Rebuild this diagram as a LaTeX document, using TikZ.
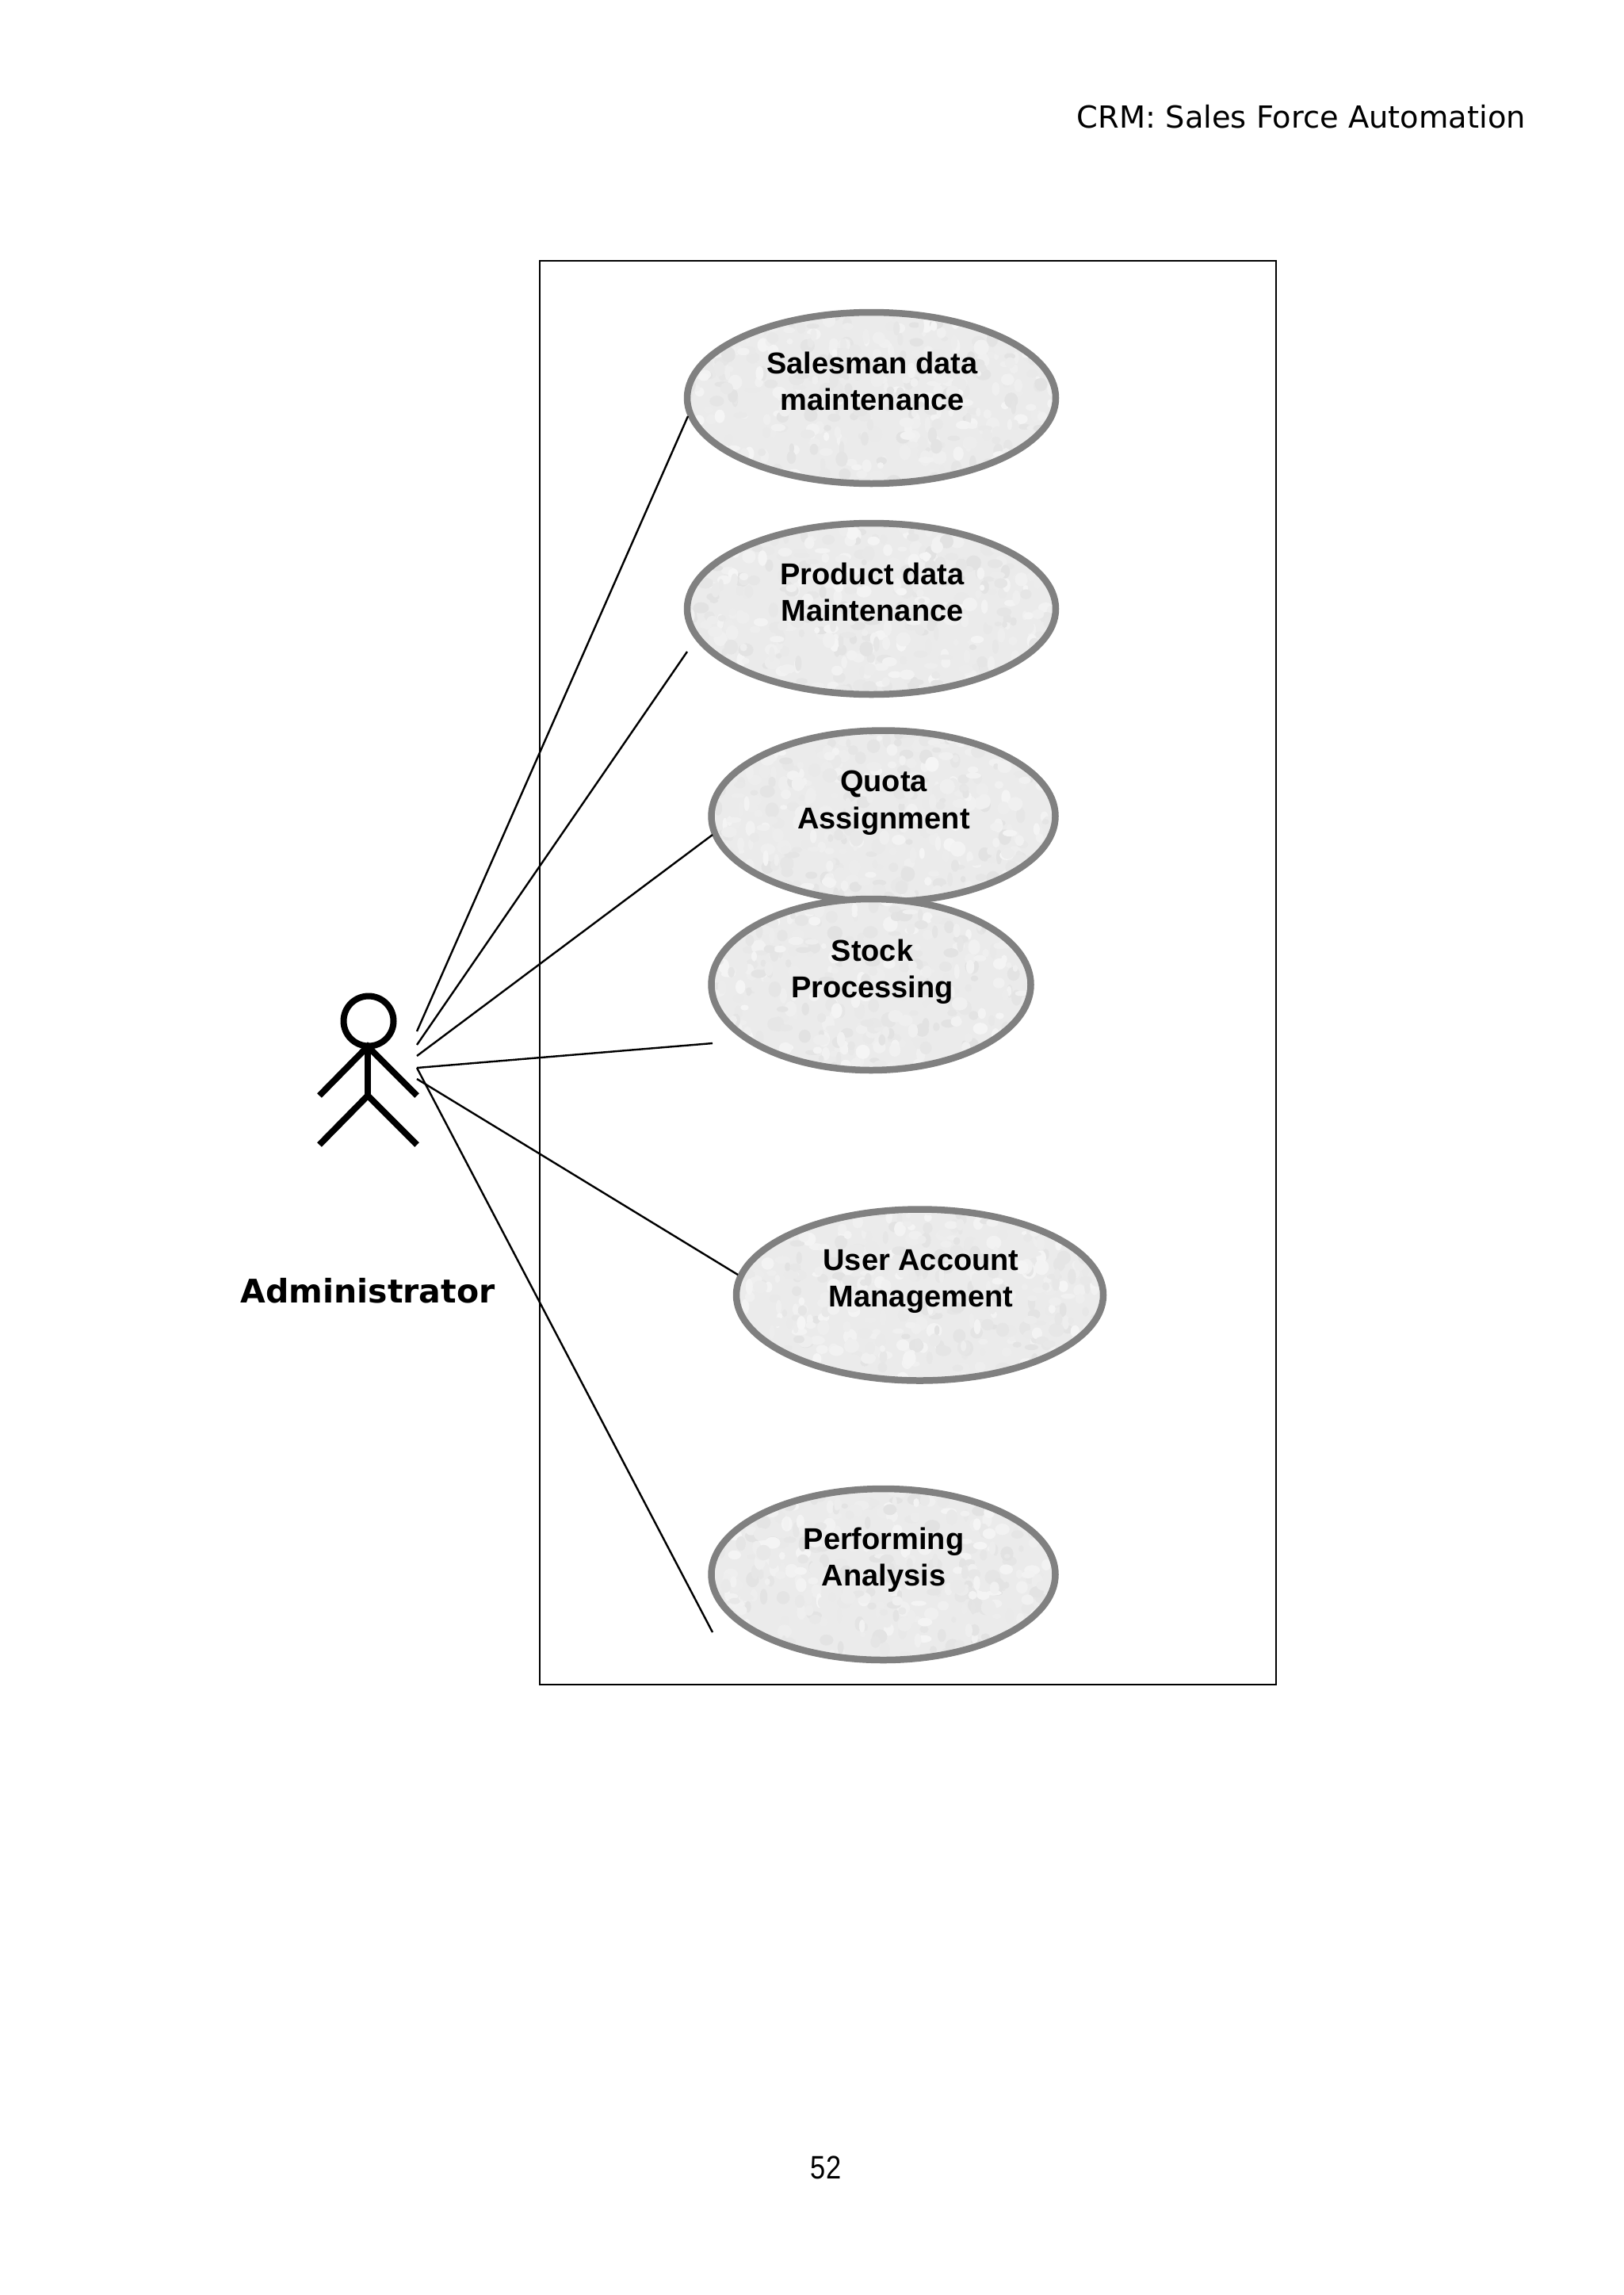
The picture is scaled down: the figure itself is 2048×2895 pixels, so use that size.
\documentclass[tikz,border=0pt]{standalone}
\usepackage{fontspec}
\setmainfont{Liberation Sans}
\newfontfamily\headfont{DejaVu Sans}
\pgfmathsetseed{52}
\newcommand{\mottle}{%
  \begin{scope}[shift={(path picture bounding box.center)}]
    \foreach \k in {1,...,520}{%
      \pgfmathsetmacro\gr{0.885+0.075*rnd}%
      \pgfmathsetmacro\ax{(rnd-0.5)*480}%
      \pgfmathsetmacro\ay{(rnd-0.5)*230}%
      \pgfmathsetmacro\ra{3+7*rnd}%
      \pgfmathsetmacro\rb{3+7*rnd}%
      \definecolor{blobtone}{gray}{\gr}%
      \fill[blobtone] (\ax,\ay) ellipse [x radius=\ra, y radius=\rb];
    }
  \end{scope}}
\tikzset{
  x=1pt,y=-1pt,
  usecase/.style={ellipse,draw=casegray,line width=8.5pt,fill=casefill,inner sep=0pt,
    minimum width=#1,minimum height=216pt,path picture={\mottle}},
  casetext/.style={font=\fontsize{38}{46.5}\selectfont\bfseries,align=center,inner sep=0pt,text=black},
  link/.style={line width=2.4pt,black},
  limb/.style={line width=8pt,black},
}
\definecolor{casegray}{HTML}{808080}
\definecolor{casefill}{HTML}{EBEBEB}
\usetikzlibrary{shapes.geometric}
\begin{document}
\begin{tikzpicture}
\useasboundingbox (0,0) rectangle (2048,2895);
\fill[white] (0,0) rectangle (2048,2895);

\node[anchor=base east,inner sep=0pt,font=\headfont\fontsize{38.4}{46}\selectfont] (head) at (1925,162) {CRM: Sales Force Automation};
\node[draw,line width=2.4pt,minimum width=929.5pt,minimum height=1796pt,inner sep=0pt] (system) at (1145.5,1227) {};

% use cases
\node[usecase=465pt] (c1) at (1099.5,502) {};
\node[usecase=465pt] (c2) at (1099.5,768) {};
\node[usecase=434pt] (c3) at (1114.5,1029.5) {};
\node[usecase=403pt] (c4) at (1099,1242) {};
\node[usecase=463pt] (c5) at (1160.5,1633.5) {};
\node[usecase=434pt] (c6) at (1114.5,1986) {};

\node[casetext] (t1) at (1100.5,481) {Salesman data\\maintenance};
\node[casetext] (t2) at (1100.5,747) {Product data\\Maintenance};
\node[casetext] (t3) at (1115,1012.5) {Quota\\Assignment};
\node[casetext] (t4) at (1100.5,1225.5) {Stock\\Processing};
\node[casetext] (t5) at (1162,1616.5) {User Account\\Management};
\node[casetext] (t6) at (1115,1967.5) {Performing\\Analysis};

% actor
\node[circle,draw,line width=8pt,minimum size=63pt,inner sep=0pt] (actorhead) at (465,1288) {};
\coordinate (neck) at (464,1320);
\coordinate (hip) at (464,1382);
\coordinate (handl) at (403,1382);
\coordinate (handr) at (526,1382);
\coordinate (footl) at (403,1444);
\coordinate (footr) at (526,1444);
\draw[limb] (neck) -- (hip);
\draw[limb] (handl) -- (neck) -- (handr);
\draw[limb] (footl) -- (hip) -- (footr);
\node[anchor=base,inner sep=0pt,font=\headfont\fontsize{41}{49}\selectfont\bfseries] (actorname) at (464,1643) {Administrator};

% connectors
\coordinate (a1) at (526,1301);
\coordinate (a2) at (526,1318);
\coordinate (a3) at (526,1332);
\coordinate (a4) at (526,1347);
\coordinate (a5) at (526,1361);
\coordinate (e1) at (868,525);
\coordinate (e2) at (867,822);
\coordinate (e3) at (899,1053);
\coordinate (e4) at (899,1316);
\coordinate (e5) at (931,1608);
\coordinate (e6) at (899,2059);
\draw[link] (a1) -- (e1);
\draw[link] (a2) -- (e2);
\draw[link] (a3) -- (e3);
\draw[link] (a4) -- (e4);
\draw[link] (a5) -- (e5);
\draw[link] (a4) -- (e6);

\node[anchor=base,inner sep=0pt,xscale=0.84,font=\fontsize{41}{48}\selectfont] (pageno) at (1042,2748) {52};
\end{tikzpicture}
\end{document}
